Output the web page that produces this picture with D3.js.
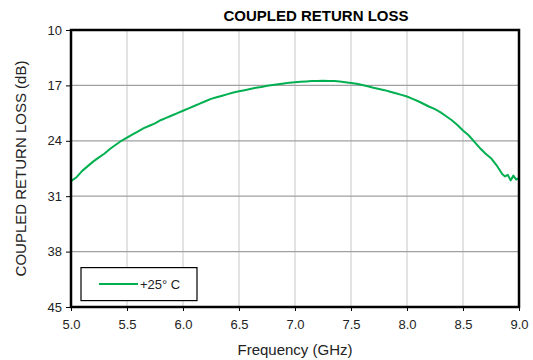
<!DOCTYPE html>
<html>
<head>
  <meta charset="utf-8">
  <script src="https://d3js.org/d3.v7.min.js"></script>
  <style>
    body { margin: 0; background: #fff; font-family: 'Liberation Sans', Arial, sans-serif; }
  </style>
</head>
<body>
  <div id="my_dataviz"></div>
  <script>
    // data
    var freq = [5.00, 5.05, 5.10, 5.15, 5.20, 5.25, 5.30, 5.35, 5.40, 5.45,
                5.50, 5.55, 5.60, 5.65, 5.70, 5.75, 5.80, 5.85, 5.90, 5.95,
                6.00, 6.05, 6.10, 6.15, 6.20, 6.25, 6.30, 6.35, 6.40, 6.45,
                6.50, 6.55, 6.60, 6.65, 6.70, 6.75, 6.80, 6.85, 6.90, 6.95,
                7.00, 7.05, 7.10, 7.15, 7.20, 7.25, 7.30, 7.35, 7.40, 7.45,
                7.50, 7.55, 7.60, 7.65, 7.70, 7.75, 7.80, 7.85, 7.90, 7.95,
                8.00, 8.05, 8.10, 8.15, 8.20, 8.25, 8.30, 8.35, 8.40, 8.45,
                8.50, 8.55, 8.60, 8.65, 8.70, 8.75, 8.80, 8.85, 8.875, 8.90,
                8.925, 8.95, 8.975, 9.00];
    var returnLoss = [29.1, 28.6, 27.8, 27.2, 26.6, 26.1, 25.6, 25.0, 24.5, 24.0,
                      23.6, 23.2, 22.8, 22.4, 22.1, 21.8, 21.4, 21.1, 20.8, 20.5,
                      20.2, 19.9, 19.6, 19.3, 19.0, 18.7, 18.5, 18.3, 18.1, 17.9,
                      17.75, 17.6, 17.45, 17.3, 17.2, 17.05, 16.95, 16.85, 16.75, 16.65,
                      16.6, 16.55, 16.5, 16.45, 16.45, 16.42, 16.45, 16.45, 16.5, 16.6,
                      16.7, 16.8, 16.95, 17.1, 17.3, 17.45, 17.6, 17.8, 18.0, 18.2,
                      18.4, 18.7, 19.0, 19.35, 19.7, 20.0, 20.4, 20.9, 21.4, 22.0,
                      22.7, 23.3, 24.1, 24.9, 25.6, 26.2, 27.1, 28.2, 28.5, 28.3,
                      29.0, 28.4, 28.9, 28.7];
    var xTicks = [5.0, 5.5, 6.0, 6.5, 7.0, 7.5, 8.0, 8.5, 9.0];
    var yTicks = [10, 17, 24, 31, 38, 45];
    var seriesName = "+25\u00b0 C";

    var data = freq.map(function (f, i) { return { f: f, v: returnLoss[i] }; });

    var W = 533, H = 360;
    var margin = { top: 30, right: 14, bottom: 53, left: 71 },
      width = W - margin.left - margin.right,
      height = H - margin.top - margin.bottom;

    var svg = d3.select("#my_dataviz")
      .append("svg")
      .attr("width", W)
      .attr("height", H);

    var g = svg.append("g")
      .attr("transform", "translate(" + margin.left + "," + margin.top + ")");

    var x = d3.scaleLinear().domain([5, 9]).range([0, width]);
    var y = d3.scaleLinear().domain([10, 45]).range([0, height]);

    // grid
    g.selectAll(".vgrid")
      .data(xTicks)
      .enter().append("line")
      .attr("x1", function (d) { return x(d); })
      .attr("x2", function (d) { return x(d); })
      .attr("y1", 0).attr("y2", height)
      .attr("stroke", "#c8c8c8").attr("stroke-width", 1);
    g.selectAll(".hgrid")
      .data(yTicks)
      .enter().append("line")
      .attr("x1", 0).attr("x2", width)
      .attr("y1", function (d) { return y(d); })
      .attr("y2", function (d) { return y(d); })
      .attr("stroke", "#a0a0a0").attr("stroke-width", 1.3);

    // axes
    var xAxis = g.append("g")
      .attr("transform", "translate(0," + height + ")")
      .call(d3.axisBottom(x).tickValues(xTicks).tickFormat(d3.format(".1f")).tickSizeInner(4).tickSizeOuter(0));
    var yAxis = g.append("g")
      .call(d3.axisLeft(y).tickValues(yTicks).tickSizeInner(5).tickSizeOuter(0));
    [xAxis, yAxis].forEach(function (a) {
      a.select(".domain").remove();
      a.selectAll("line").attr("stroke", "#000");
      a.selectAll("text")
        .attr("fill", "#222")
        .style("font-family", "'Liberation Sans', Arial, sans-serif")
        .style("font-size", "13px");
    });
    xAxis.selectAll("text").attr("dy", "1.15em");
    yAxis.selectAll("text").attr("x", -9);

    // curve
    var line = d3.line()
      .x(function (d) { return x(d.f); })
      .y(function (d) { return y(d.v); });
    g.append("path")
      .datum(data)
      .attr("fill", "none")
      .attr("stroke", "#00b050")
      .attr("stroke-width", 2)
      .attr("stroke-linejoin", "round")
      .attr("d", line);

    // frame
    g.append("rect")
      .attr("x", 0).attr("y", 0)
      .attr("width", width).attr("height", height)
      .attr("fill", "none")
      .attr("stroke", "#000")
      .attr("stroke-width", 2.5);

    // legend
    var lg = g.append("g").attr("transform", "translate(10," + (y(38) + 16) + ")");
    lg.append("rect")
      .attr("width", 116).attr("height", 33)
      .attr("fill", "#fff").attr("stroke", "#000").attr("stroke-width", 1.2);
    lg.append("line")
      .attr("x1", 18).attr("x2", 57)
      .attr("y1", 16.5).attr("y2", 16.5)
      .attr("stroke", "#00b050").attr("stroke-width", 2);
    lg.append("text")
      .attr("x", 59).attr("y", 21)
      .style("font-size", "13px")
      .attr("fill", "#222")
      .text(seriesName);

    // titles
    svg.append("text")
      .attr("x", 316).attr("y", 21)
      .attr("text-anchor", "middle")
      .style("font-size", "15px")
      .style("font-weight", "bold")
      .text("COUPLED RETURN LOSS");
    svg.append("text")
      .attr("x", margin.left + width / 2).attr("y", 355)
      .attr("text-anchor", "middle")
      .style("font-size", "15px")
      .attr("fill", "#222")
      .text("Frequency (GHz)");
    svg.append("text")
      .attr("transform", "translate(26," + (margin.top + height / 2) + ") rotate(-90)")
      .attr("text-anchor", "middle")
      .style("font-size", "15px")
      .attr("fill", "#222")
      .text("COUPLED RETURN LOSS (dB)");
  </script>
</body>
</html>
